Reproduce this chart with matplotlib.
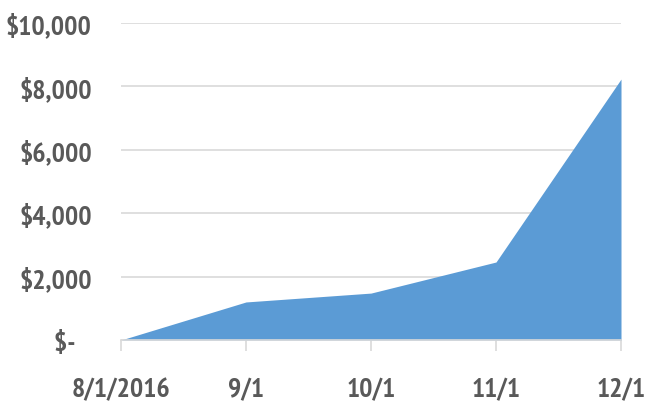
import matplotlib
matplotlib.use("Agg")
import matplotlib.pyplot as plt
from matplotlib.ticker import FuncFormatter

categories = ["8/1/2016", "9/1", "10/1", "11/1", "12/1"]
values = [0, 1200, 1480, 2460, 8230]
yticks = [0, 2000, 4000, 6000, 8000, 10000]

fam = ['PT Sans Narrow', 'Archivo Narrow', 'DejaVu Sans']
plt.rcParams['font.family'] = fam
fig = plt.figure(figsize=(6.47, 4.10), dpi=100)
ax = fig.add_axes([121/647, 69/410, 500/647, 317/410])

x = list(range(len(categories)))
ax.fill_between(x, values, 0, color="#5B9BD5", linewidth=0, zorder=2)
ax.set_xlim(0, len(categories) - 1)
ax.set_ylim(0, 10000)
ax.set_yticks(yticks)
ax.yaxis.set_major_formatter(FuncFormatter(lambda v, p: "$-\u2002" if v == 0 else "${:,.0f}".format(v)))
ax.set_xticks(x)
ax.set_xticklabels(categories)
ax.grid(axis="y", color="#D9D9D9", linewidth=1.2, zorder=0)
for s in ["top", "right", "left"]:
    ax.spines[s].set_visible(False)
ax.spines["bottom"].set_color("#D9D9D9")
ax.spines["bottom"].set_linewidth(1.2)
ax.spines["bottom"].set_zorder(3)
ax.tick_params(axis="y", length=0, pad=21)
ax.tick_params(axis="x", length=8, color="#D9D9D9", width=1.2, pad=19)
for lab in ax.get_yticklabels() + ax.get_xticklabels():
    lab.set_fontsize(20)
    lab.set_fontweight("bold")
    lab.set_family(fam)
    lab.set_color("#595959")
fig.savefig("out.png", dpi=100)
